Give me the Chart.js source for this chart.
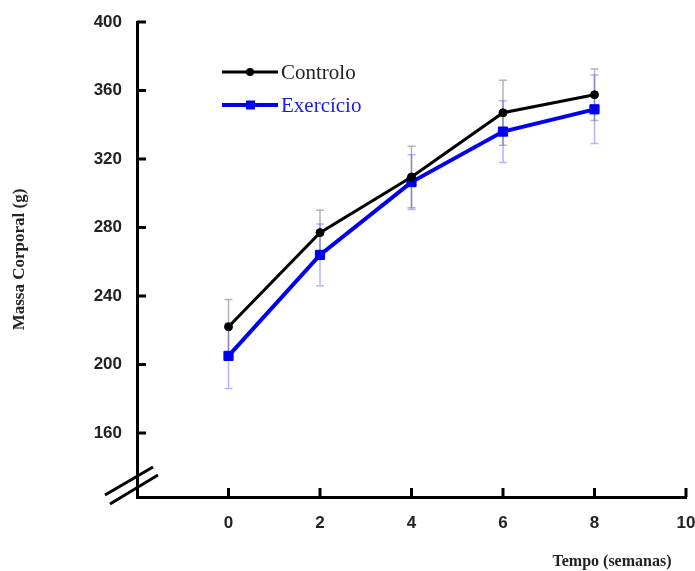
<!DOCTYPE html>
<html>
<head>
<meta charset="utf-8">
<script src="https://cdn.jsdelivr.net/npm/chart.js@4"></script>
<style>
  body { margin: 0; background: #fff; }
  #wrap { width: 695px; height: 571px; position: relative; }
</style>
</head>
<body>
<div id="wrap"><canvas id="massGraph"></canvas></div>
<script>
// data
const weeks = [0, 2, 4, 6, 8];
const controlo = [222, 277, 309.5, 347, 357.5];
const controloErr = [16, 13, 18, 19, 15];
const exercicio = [205, 264, 306.5, 336, 349];
const exercicioErr = [19, 18, 16, 18, 20];
const xTicks = [0, 2, 4, 6, 8, 10];
const yTicks = [160, 200, 240, 280, 320, 360, 400];

const serif = '"Liberation Serif", "DejaVu Serif", serif';
const sans = '"Liberation Sans", Arial, sans-serif';

//error bars, inward ticks, axis break, legend and x title
const extras = {
    id: 'extras',
    beforeDatasetsDraw(chart) {
        const ctx = chart.ctx;
        const xs = chart.scales.x, ys = chart.scales.y;
        const sets = [[controlo, controloErr, 'rgba(90,90,90,0.45)'], [exercicio, exercicioErr, 'rgba(40,40,255,0.35)']];
        ctx.save();
        sets.forEach(([vals, errs, col]) => {
            ctx.strokeStyle = col;
            ctx.lineWidth = 1.5;
            vals.forEach((v, i) => {
                const x = xs.getPixelForValue(weeks[i]);
                const y1 = ys.getPixelForValue(v - errs[i]);
                const y2 = ys.getPixelForValue(v + errs[i]);
                ctx.beginPath();
                ctx.moveTo(x, y1); ctx.lineTo(x, y2);
                ctx.moveTo(x - 4, y1); ctx.lineTo(x + 4, y1);
                ctx.moveTo(x - 4, y2); ctx.lineTo(x + 4, y2);
                ctx.stroke();
            });
        });
        ctx.restore();
    },
    afterDraw(chart) {
        const ctx = chart.ctx;
        const xs = chart.scales.x, ys = chart.scales.y;
        const area = chart.chartArea;
        ctx.save();
        ctx.strokeStyle = '#000';
        ctx.lineWidth = 3;
        ctx.beginPath();
        xTicks.forEach(t => {
            const x = xs.getPixelForValue(t);
            ctx.moveTo(x, area.bottom); ctx.lineTo(x, area.bottom - 9);
        });
        yTicks.forEach(t => {
            const y = ys.getPixelForValue(t);
            ctx.moveTo(area.left, y); ctx.lineTo(area.left + 9, y);
        });
        ctx.stroke();

        // axis break
        const ox = area.left, oy = area.bottom;
        ctx.beginPath();
        ctx.moveTo(ox - 32, oy - 2); ctx.lineTo(ox + 16, oy - 30);
        ctx.moveTo(ox - 27, oy + 7); ctx.lineTo(ox + 21, oy - 22);
        ctx.stroke();

        // legend
        chart.data.datasets.forEach((ds, i) => {
            const y = area.top + 50 + i * 33;
            const x0 = area.left + 85;
            ctx.strokeStyle = ds.borderColor;
            ctx.lineWidth = ds.borderWidth;
            ctx.beginPath();
            ctx.moveTo(x0, y); ctx.lineTo(x0 + 56, y);
            ctx.stroke();
            ctx.fillStyle = ds.borderColor;
            if (ds.pointStyle === 'rect') {
                ctx.fillRect(x0 + 24, y - 4.5, 9, 9);
            } else {
                ctx.beginPath();
                ctx.arc(x0 + 28, y, 4, 0, Math.PI * 2);
                ctx.fill();
            }
            ctx.fillStyle = i === 0 ? '#222' : '#1a1aee';
            ctx.font = '21px ' + serif;
            ctx.textAlign = 'left';
            ctx.textBaseline = 'middle';
            ctx.fillText(ds.label, x0 + 59, y + 1);
        });

        // x title
        ctx.fillStyle = '#222';
        ctx.font = 'bold 16px ' + serif;
        ctx.textAlign = 'center';
        ctx.textBaseline = 'middle';
        ctx.fillText('Tempo (semanas)', 612, 562);
        ctx.restore();
    }
};

const massGraph = () => {
    var ctx = document.getElementById('massGraph').getContext('2d');
    var chart = new Chart(ctx, {
        type: 'line',
        data: {
            labels: weeks,
            datasets: [{
                label: 'Controlo',
                data: weeks.map((w, i) => ({x: w, y: controlo[i]})),
                borderColor: '#000',
                backgroundColor: '#000',
                borderWidth: 3,
                pointStyle: 'circle',
                pointRadius: 4,
                pointBorderWidth: 1,
                pointHoverRadius: 4
            }, {
                label: 'Exercício',
                data: weeks.map((w, i) => ({x: w, y: exercicio[i]})),
                borderColor: '#0000ee',
                backgroundColor: '#0000ee',
                borderWidth: 4,
                pointStyle: 'rect',
                pointRadius: 6.5,
                pointBorderWidth: 1,
                pointHoverRadius: 6.5
            }]
        },
        options: {
            responsive: true,
            maintainAspectRatio: false,
            animation: false,
            events: [],
            layout: {
                padding: { left: 0, right: 9, top: 22, bottom: 0 }
            },
            plugins: {
                legend: { display: false },
                tooltip: { enabled: false }
            },
            scales: {
                x: {
                    type: 'linear',
                    min: -2,
                    max: 10,
                    afterBuildTicks: s => { s.ticks = xTicks.map(v => ({value: v})); },
                    afterFit: s => { s.height = 74; s.paddingLeft = 0; s.paddingRight = 0; },
                    grid: { display: false, drawTicks: false },
                    border: { display: true, color: '#000', width: 3 },
                    ticks: {
                        padding: 16,
                        color: '#222',
                        font: { family: sans, size: 17, weight: 'bold' }
                    }
                },
                y: {
                    min: 122.6,
                    max: 400,
                    afterBuildTicks: s => { s.ticks = yTicks.map(v => ({value: v})); },
                    afterFit: s => { s.width = 137; s.paddingTop = 0; s.paddingBottom = 0; },
                    grid: { display: false, drawTicks: false },
                    border: { display: true, color: '#000', width: 3 },
                    ticks: {
                        padding: 15,
                        color: '#222',
                        font: { family: sans, size: 17, weight: 'bold' }
                    },
                    title: {
                        display: true,
                        text: 'Massa Corporal (g)',
                        color: '#222',
                        padding: { top: 9 },
                        font: { family: serif, size: 17, weight: 'bold' }
                    }
                }
            }
        },
        plugins: [extras]
    });
};

massGraph()
</script>
</body>
</html>
